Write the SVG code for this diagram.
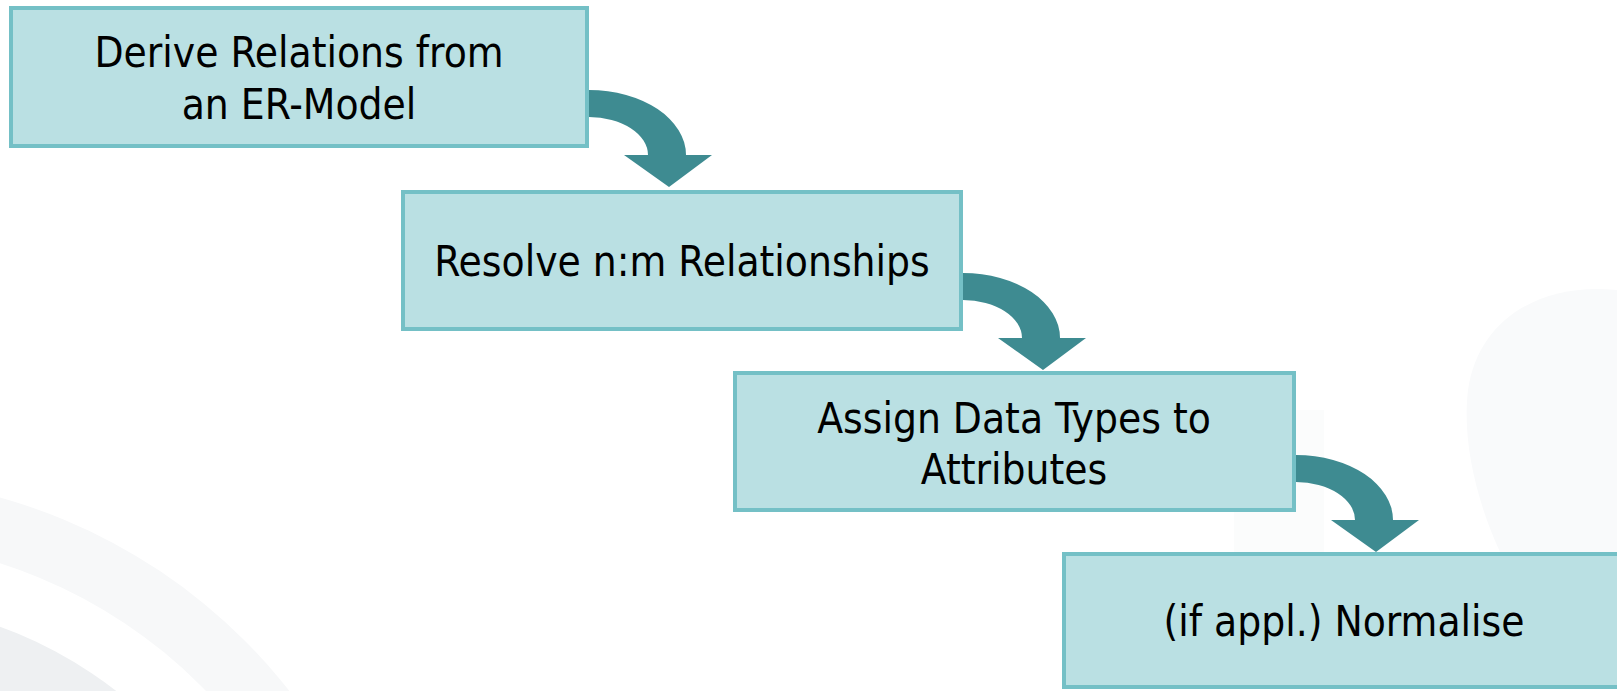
<svg xmlns="http://www.w3.org/2000/svg" width="1617" height="691" viewBox="0 0 1617 691">
  <style>
    .box { fill: #bae0e3; stroke: #74c0c6; stroke-width: 4; }
    .lbl { font-family: "DejaVu Sans Condensed", "DejaVu Sans", sans-serif; font-size: 42px; fill: #000; text-anchor: middle; }
    .arrow { fill: #3e8b91; }
  </style>
  <rect width="1617" height="691" fill="#ffffff"/>
  <g id="background">
    <circle cx="-150" cy="1035" r="558" fill="#f7f8f9"/>
    <circle cx="-150" cy="1035" r="495" fill="#ffffff"/>
    <circle cx="-150" cy="1035" r="435" fill="#eef0f2"/>
    <path d="M1617 290 C1540 282 1478 320 1468 390 C1462 440 1476 500 1500 552 L1617 552 Z" fill="#f9fafb"/>
    <rect x="1234" y="410" width="90" height="143" fill="#fbfcfc"/>
  </g>
  <g id="node1">
    <rect class="box" x="11" y="8" width="576" height="138"/>
    <text class="lbl" x="299" y="67">Derive Relations from</text>
    <text class="lbl" x="299" y="119">an ER-Model</text>
  </g>
  <g id="node2">
    <rect class="box" x="403" y="192" width="558" height="137"/>
    <text class="lbl" x="682" y="276">Resolve n:m Relationships</text>
  </g>
  <g id="node3">
    <rect class="box" x="735" y="373" width="559" height="137"/>
    <text class="lbl" x="1014" y="433">Assign Data Types to</text>
    <text class="lbl" x="1014" y="484">Attributes</text>
  </g>
  <g id="node4">
    <rect class="box" x="1064" y="554" width="570" height="133"/>
    <text class="lbl" x="1344" y="636">(if appl.) Normalise</text>
  </g>
  <g id="connectors">
    <path id="arrow1" class="arrow" d="M589 90 A97 65 0 0 1 686 155 L712 155 L669 187 L624 155 L648 155 A59 38 0 0 0 589 117 Z"/>
    <path id="arrow2" class="arrow" transform="translate(374 183)" d="M589 90 A97 65 0 0 1 686 155 L712 155 L669 187 L624 155 L648 155 A59 38 0 0 0 589 117 Z"/>
    <path id="arrow3" class="arrow" transform="translate(707 365)" d="M589 90 A97 65 0 0 1 686 155 L712 155 L669 187 L624 155 L648 155 A59 38 0 0 0 589 117 Z"/>
  </g>
</svg>
